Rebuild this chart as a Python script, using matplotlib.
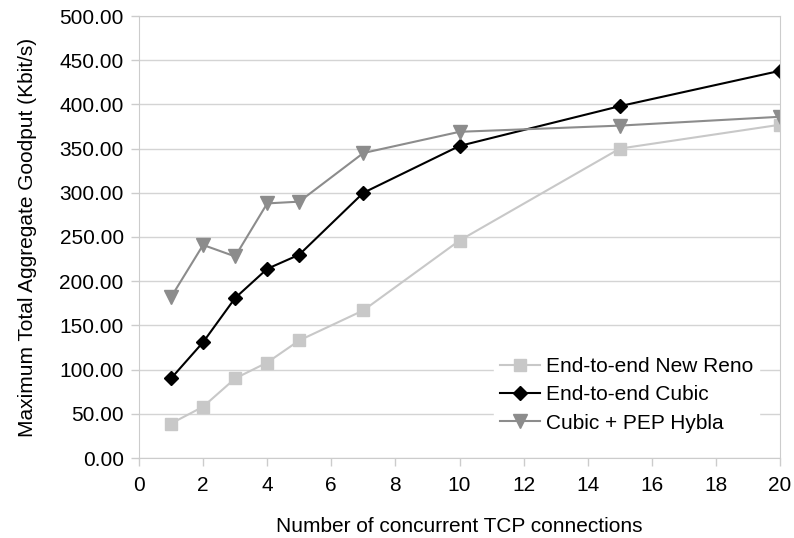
import matplotlib
matplotlib.use("Agg")
import matplotlib.pyplot as plt

plt.rcParams['font.family'] = ['Liberation Sans', 'DejaVu Sans']

connections = [1, 2, 3, 4, 5, 7, 10, 15, 20]
new_reno = [39, 58, 90, 108, 133, 167, 246, 350, 377]
cubic = [90, 131, 181, 214, 230, 300, 353, 398, 438]
pep_hybla = [182, 241, 228, 288, 290, 345, 369, 376, 386]

fig = plt.figure(figsize=(7.94, 5.38), dpi=100)
ax = fig.add_axes([139 / 794, 1 - 458 / 538, (780 - 139) / 794, (458 - 16) / 538])

ax.plot(connections, new_reno, color='#c8c8c8', marker='s', markersize=9,
        linewidth=1.5, label='End-to-end New Reno')
ax.plot(connections, cubic, color='black', marker='D', markersize=7.5,
        linewidth=1.5, label='End-to-end Cubic')
ax.plot(connections, pep_hybla, color='#8c8c8c', marker='v', markersize=9.5,
        linewidth=1.5, label='Cubic + PEP Hybla')

ax.set_xlim(0, 20)
ax.set_ylim(0, 500)
ax.set_xticks(range(0, 21, 2))
ax.set_yticks(range(0, 501, 50))
ax.set_yticklabels([f"{v:.2f}" for v in range(0, 501, 50)])
ax.yaxis.grid(True, color='#d4d4d4', linewidth=1)
ax.set_axisbelow(True)

for side in ['left', 'right', 'top', 'bottom']:
    ax.spines[side].set_color('#cccccc')
ax.tick_params(axis='both', colors='#cccccc', labelcolor='black',
               labelsize=15, length=6, width=1)
ax.tick_params(axis='x', pad=7)
ax.tick_params(axis='y', pad=5)

ax.set_xlabel('Number of concurrent TCP connections', fontsize=15, labelpad=16)
ax.set_ylabel('Maximum Total Aggregate Goodput (Kbit/s)', fontsize=15, labelpad=16)

leg = ax.legend(loc='lower right', bbox_to_anchor=(0.968, 0.043), frameon=True,
                fontsize=15, handlelength=1.9, handletextpad=0.3,
                labelspacing=0.45, borderpad=0.3, borderaxespad=0)
leg.get_frame().set_edgecolor('white')
leg.get_frame().set_facecolor('white')
leg.get_frame().set_alpha(1)

fig.savefig('out.png', dpi=100)
